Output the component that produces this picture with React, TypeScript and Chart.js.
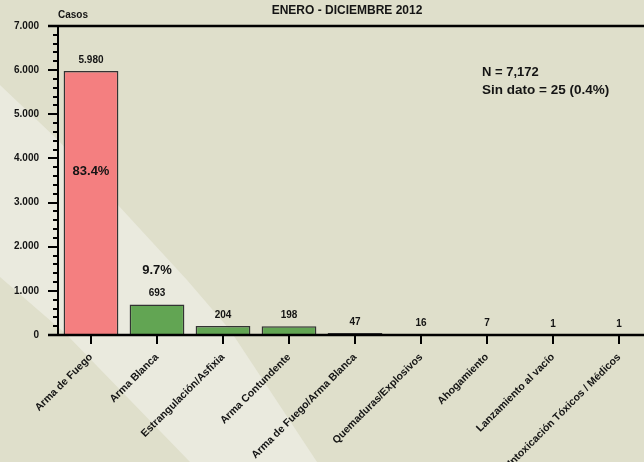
import React, { useEffect, useRef } from "react";
import { Chart, registerables } from "chart.js";

Chart.register(...registerables);

const categories = [
  "Arma de Fuego",
  "Arma Blanca",
  "Estrangulación/Asfixia",
  "Arma Contundente",
  "Arma de Fuego/Arma Blanca",
  "Quemaduras/Explosivos",
  "Ahogamiento",
  "Lanzamiento al vacío",
  "Intoxicación Tóxicos / Médicos",
];
const casos = [5980, 693, 204, 198, 47, 16, 7, 1, 1];
const barColors = ["#F47F80", "#62A553", "#62A553", "#62A553", "#62A553", "#62A553", "#62A553", "#62A553", "#62A553"];
const percentLabels = ["83.4%", "9.7%"];
const percentValues = [3700, 1470];
const yMax = 7000;
const yStep = 1000;
const minorStep = 200;
const title = "ENERO - DICIEMBRE 2012";
const yTitle = "Casos";
const notes = ["N = 7,172", "Sin dato = 25 (0.4%)"];

const fmt = (v: number) => String(v).replace(/\B(?=(\d{3})+(?!\d))/g, ".");
const FONT = "'Liberation Sans', Arial, sans-serif";
const INK = "#141414";

const decor = {
  id: "decor",
  beforeDraw(chart: any) {
    const ctx = chart.ctx;
    ctx.save();
    ctx.fillStyle = "#DFDFCB";
    ctx.fillRect(0, 0, chart.width, chart.height);
    ctx.fillStyle = "#EAEADE";
    ctx.beginPath();
    ctx.moveTo(0, 85);
    ctx.lineTo(58, 140);
    ctx.lineTo(118, 205);
    ctx.lineTo(187, 280);
    ctx.lineTo(230, 330);
    ctx.lineTo(317, 462);
    ctx.lineTo(190, 462);
    ctx.lineTo(67, 335);
    ctx.lineTo(0, 277);
    ctx.closePath();
    ctx.fill();
    ctx.restore();
  },
  afterDraw(chart: any) {
    const ctx = chart.ctx;
    const { left, right, top, bottom } = chart.chartArea;
    const ys = chart.scales.y;
    const xs = chart.scales.x;
    ctx.save();
    ctx.strokeStyle = "#000";
    ctx.lineCap = "butt";
    // y ticks
    ctx.lineWidth = 2;
    for (let v = 0; v <= yMax; v += minorStep) {
      const py = Math.round(ys.getPixelForValue(v));
      const len = v % yStep === 0 ? 10 : 5;
      ctx.beginPath();
      ctx.moveTo(left - len, py);
      ctx.lineTo(left, py);
      ctx.stroke();
    }
    // x ticks
    for (let i = 0; i < categories.length; i++) {
      const px = Math.round(xs.getPixelForValue(i));
      ctx.beginPath();
      ctx.moveTo(px, bottom);
      ctx.lineTo(px, bottom + 9);
      ctx.stroke();
    }
    // axes
    ctx.lineWidth = 2.5;
    ctx.beginPath();
    ctx.moveTo(left - 10, top);
    ctx.lineTo(right + 10, top);
    ctx.moveTo(left - 10, bottom);
    ctx.lineTo(right + 10, bottom);
    ctx.stroke();
    ctx.lineWidth = 2;
    ctx.beginPath();
    ctx.moveTo(left, top);
    ctx.lineTo(left, bottom);
    ctx.stroke();

    // value labels
    ctx.fillStyle = INK;
    ctx.textAlign = "center";
    ctx.textBaseline = "middle";
    ctx.font = `bold 10px ${FONT}`;
    const meta = chart.getDatasetMeta(0);
    meta.data.forEach((el: any, i: number) => {
      ctx.fillText(fmt(casos[i]), el.x, el.y - 11);
    });
    // percent labels
    ctx.font = `bold 13px ${FONT}`;
    percentLabels.forEach((t, i) => {
      const el = meta.data[i];
      ctx.fillText(t, el.x, ys.getPixelForValue(percentValues[i]));
    });
    // title
    ctx.font = `bold 12px ${FONT}`;
    ctx.fillText(title, 347, 11);
    // y title
    ctx.textAlign = "left";
    ctx.font = `bold 10px ${FONT}`;
    ctx.fillText(yTitle, left, 15);
    // notes
    ctx.font = `bold 13px ${FONT}`;
    ctx.fillText(notes[0], 482, 72);
    ctx.font = `bold 13.5px ${FONT}`;
    ctx.fillText(notes[1], 482, 90);
    ctx.restore();
  },
};

export default function App() {
  const ref = useRef<HTMLCanvasElement>(null);
  useEffect(() => {
    if (!ref.current) return;
    const chart = new Chart(ref.current, {
      type: "bar",
      data: {
        labels: categories,
        datasets: [
          {
            data: casos,
            backgroundColor: barColors,
            borderColor: "#333",
            borderWidth: 1.5,
            barPercentage: 0.83,
            categoryPercentage: 1,
          },
        ],
      },
      options: {
        animation: false,
        responsive: false,
        devicePixelRatio: 1,
        layout: { padding: { top: 26, right: 8, left: 0, bottom: 0 } },
        plugins: { legend: { display: false }, tooltip: { enabled: false }, title: { display: false } },
        scales: {
          x: {
            offset: true,
            grid: { display: false, drawTicks: false },
            border: { display: false },
            ticks: {
              autoSkip: false,
              minRotation: 45,
              maxRotation: 45,
              padding: 16,
              color: INK,
              font: { family: FONT, size: 10.5, weight: "bold" },
            },
            afterFit: (s: any) => {
              s.height = 127;
            },
          },
          y: {
            min: 0,
            max: yMax,
            grid: { display: false, drawTicks: false },
            border: { display: false },
            ticks: {
              stepSize: yStep,
              padding: 19,
              color: INK,
              font: { family: FONT, size: 10, weight: "bold" },
              callback: (v: any) => fmt(Number(v)),
            },
            afterFit: (s: any) => {
              s.width = 58;
            },
          },
        },
      },
      plugins: [decor],
    });
    return () => chart.destroy();
  }, []);
  return (
    <div style={{ position: "fixed", left: 0, top: 0, width: 644, height: 462, overflow: "hidden", background: "#DFDFCB" }}>
      <div style={{ width: 660, height: 462 }}>
        <canvas ref={ref} width={660} height={462} style={{ display: "block" }} />
      </div>
    </div>
  );
}
